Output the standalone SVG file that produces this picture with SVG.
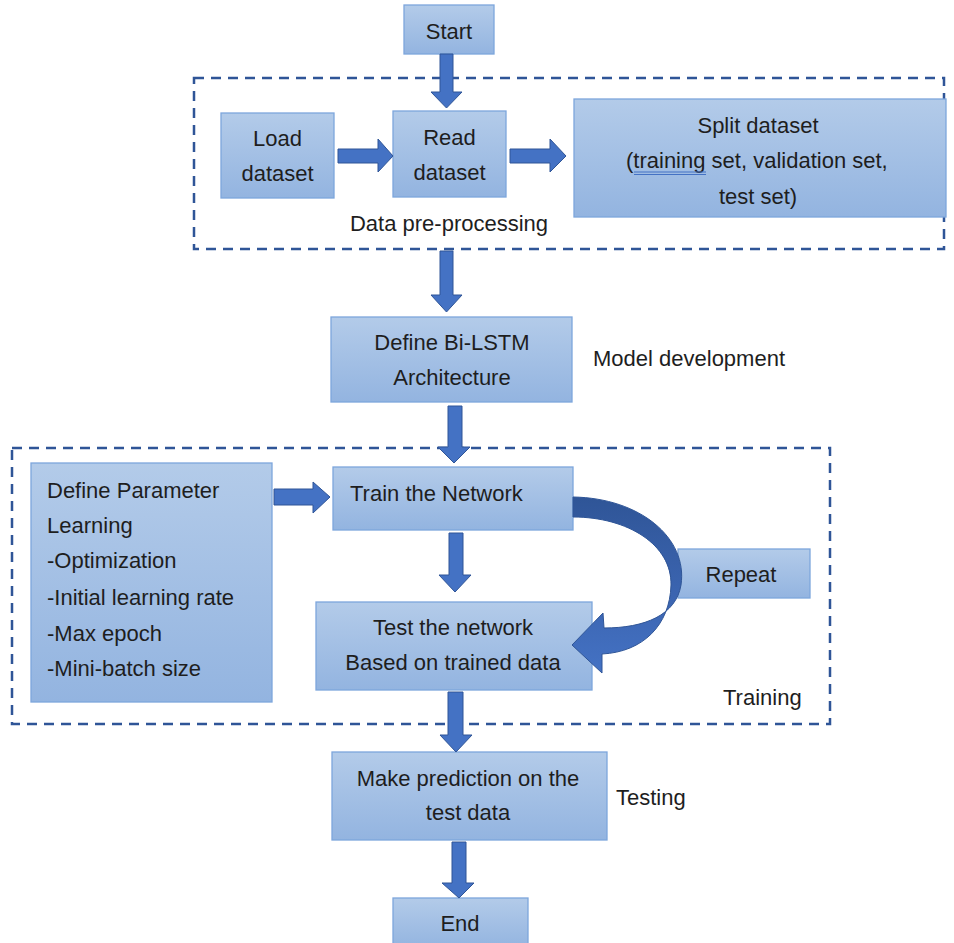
<svg xmlns="http://www.w3.org/2000/svg" width="954" height="943" viewBox="0 0 954 943">
<defs>
<linearGradient id="boxg" x1="0" y1="0" x2="0" y2="1">
<stop offset="0" stop-color="#B3CBE9"/>
<stop offset="1" stop-color="#93B4E0"/>
</linearGradient>
<linearGradient id="curveg" x1="0" y1="0" x2="0" y2="1">
<stop offset="0" stop-color="#2F5597"/>
<stop offset="0.5" stop-color="#3A63AE"/>
<stop offset="1" stop-color="#4472C4"/>
</linearGradient>
</defs>
<style>
.box{fill:url(#boxg);stroke:#7DA6DC;stroke-width:1.3}
.t{font-family:"Liberation Sans",Arial,sans-serif;font-size:22px;fill:#1E1E1E}
.c{text-anchor:middle}
.dash{fill:none;stroke:#2F5597;stroke-width:2.5;stroke-dasharray:10 7}
.arr{fill:#4472C4;stroke:#2F5597;stroke-width:1}
</style>
<rect width="954" height="943" fill="#FFFFFF"/>

<g id="groups">
<rect class="dash" x="194" y="78" width="750" height="171"/>
<rect class="dash" x="12" y="448" width="818" height="276"/>
<text class="t c" x="449" y="231">Data pre-processing</text>
<text class="t" x="593" y="366">Model development</text>
<text class="t" x="723" y="705">Training</text>
<text class="t" x="616" y="805">Testing</text>
</g>

<g id="start">
<rect class="box" x="404" y="5" width="90" height="49"/>
<text class="t c" x="449" y="39">Start</text>
</g>
<g id="load">
<rect class="box" x="221" y="113" width="113" height="85"/>
<text class="t c" x="277.5" y="146">Load</text>
<text class="t c" x="277.5" y="181">dataset</text>
</g>
<g id="read">
<rect class="box" x="393" y="111" width="113" height="86"/>
<text class="t c" x="449.5" y="145">Read</text>
<text class="t c" x="449.5" y="180">dataset</text>
</g>
<g id="split">
<rect class="box" x="574" y="99" width="372" height="118"/>
<text class="t c" x="758" y="133">Split dataset</text>
<text class="t" x="626" y="168">(training set, validation set,</text>
<line x1="634" y1="172" x2="706" y2="172" stroke="#4472C4" stroke-width="1.2"/>
<line x1="634" y1="174.5" x2="706" y2="174.5" stroke="#4472C4" stroke-width="1.2"/>
<text class="t c" x="758" y="204">test set)</text>
</g>
<g id="bilstm">
<rect class="box" x="331" y="317" width="241" height="85"/>
<text class="t c" x="452" y="350">Define Bi-LSTM</text>
<text class="t c" x="452" y="385">Architecture</text>
</g>
<g id="param">
<rect class="box" x="31" y="463" width="241" height="239"/>
<text class="t" x="47" y="498">Define Parameter</text>
<text class="t" x="47" y="533">Learning</text>
<text class="t" x="47" y="568">-Optimization</text>
<text class="t" x="47" y="605">-Initial learning rate</text>
<text class="t" x="47" y="641">-Max epoch</text>
<text class="t" x="47" y="676">-Mini-batch size</text>
</g>
<g id="train">
<rect class="box" x="333" y="467" width="240" height="63"/>
<text class="t" x="350" y="501">Train the Network</text>
</g>
<g id="repeat">
<rect class="box" x="678" y="549" width="132" height="49"/>
<text class="t c" x="741" y="582">Repeat</text>
</g>
<g id="test">
<rect class="box" x="316" y="602" width="276" height="88"/>
<text class="t c" x="453" y="635">Test the network</text>
<text class="t c" x="453" y="670">Based on trained data</text>
</g>
<g id="predict">
<rect class="box" x="332" y="752" width="275" height="88"/>
<text class="t c" x="468" y="786">Make prediction on the</text>
<text class="t c" x="468" y="820">test data</text>
</g>
<g id="end">
<rect class="box" x="393" y="898" width="135" height="50"/>
<text class="t c" x="460" y="931">End</text>
</g>

<g id="connectors">
<polygon class="arr" points="440,54 453,54 453,92 462,92 446.5,108 431,92 440,92"/>
<polygon class="arr" points="338,149 378,149 378,139 393,156 378,172 378,163 338,163"/>
<polygon class="arr" points="510,149 550,149 550,139 566,156 550,172 550,163 510,163"/>
<polygon class="arr" points="440,251 453,251 453,295 462,295 446.5,312 431,295 440,295"/>
<polygon class="arr" points="448,406 462,406 462,447 470,447 454,463 438,447 448,447"/>
<polygon class="arr" points="274,489 313,489 313,482 330,497 313,513 313,505 274,505"/>
<polygon class="arr" points="449,533 463,533 463,575 471,575 455,592 439,575 449,575"/>
<polygon class="arr" points="448,692 463,692 463,735 472,735 456,752 440,735 448,735"/>
<polygon class="arr" points="452,842 466,842 466,883 474,883 459,898 442,883 452,883"/>
<path d="M573,497 C640,498 688,538 681,585 C676,615 645,628 604,628 L603,613 L572,645 L602,673 L602,654 C643,652 670,625 671,585 C672,545 628,517 573,517 Z" fill="url(#curveg)" stroke="#2F5597" stroke-width="1"/>
</g>
</svg>
